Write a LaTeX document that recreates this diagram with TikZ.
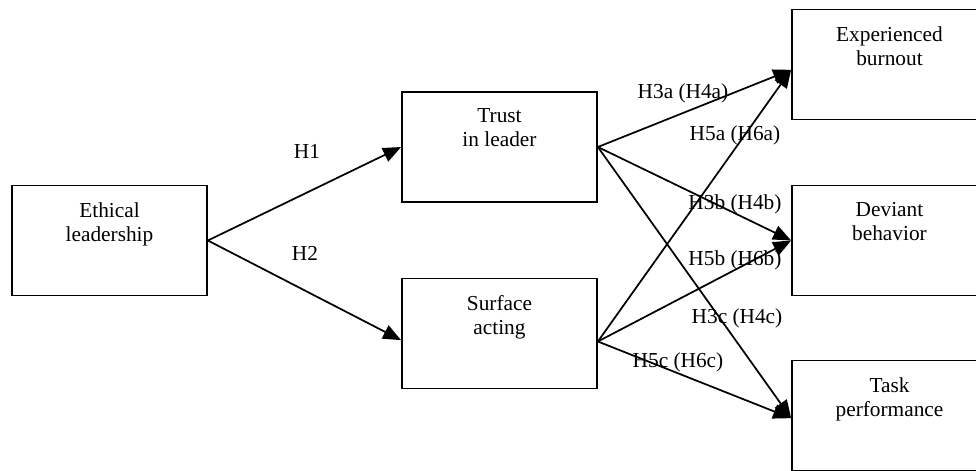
\documentclass[tikz,border=0pt]{standalone}
\usepackage{fontspec}
\setmainfont{Liberation Serif}
\usetikzlibrary{positioning,arrows.meta}

\begin{document}
\begin{tikzpicture}[x=0.75pt,y=-0.75pt,
    box/.style={draw=black, line width=1.3pt, minimum width=146.25pt, minimum height=82.5pt, inner sep=0pt},
    txt/.style={align=center, inner sep=0pt, font=\fontsize{16}{18}\selectfont},
    hyp/.style={inner sep=0pt, font=\fontsize{16}{18}\selectfont},
    arr/.style={line width=1.3pt, -{Triangle[length=13.5pt,width=11pt]}}] %Modelo
    \clip (0,0) rectangle (976,471);

    \node[box] (eth) at (109.5,240.5) {};
    \node[box] (trust) at (499.5,147) {};
    \node[box] (surf) at (499.5,333.5) {};

    \node[box] (exp) at (889.5,64.5) {};
    \node[box] (dev) at (889.5,240.5) {};
    \node[box] (task) at (889.5,415.5) {};

    \node[txt, below=13pt of eth.north] (etht) {Ethical\\leadership};
    \node[txt, below=13pt of trust.north] (trustt) {Trust\\in leader};
    \node[txt, below=13pt of surf.north] (surft) {Surface\\acting};
    \node[txt, below=13pt of exp.north] (expt) {Experienced\\burnout};
    \node[txt, below=13pt of dev.north] (devt) {Deviant\\behavior};
    \node[txt, below=13pt of task.north] (taskt) {Task\\performance};

    \coordinate (surfin) at ([yshift=-5pt]surf.west);
    \coordinate (surfout) at ([yshift=-6pt]surf.east);
    \coordinate (expin) at ([yshift=-4pt]exp.west);
    \coordinate (taskin) at ([yshift=-2pt]task.west);

    \draw[arr] (eth.east) -- (trust.west);
    \draw[arr] (eth.east) -- (surfin);

    \draw[arr] (trust.east) -- (expin);
    \draw[arr] (trust.east) -- (dev.west);
    \draw[arr] (trust.east) -- (taskin);

    \draw[arr] (surfout) -- (expin);
    \draw[arr] (surfout) -- (dev.west);
    \draw[arr] (surfout) -- (taskin);

    \node[hyp] (h1) at (307,151) {H1};
    \node[hyp] (h2) at (305,253) {H2};
    \node[hyp] (h3a) at (683,93) {H3a (H4a)};
    \node[hyp] (h5a) at (735,135) {H5a (H6a)};
    \node[hyp] (h3b) at (735,204) {H3b (H4b)};
    \node[hyp] (h5b) at (735,260) {H5b (H6b)};
    \node[hyp] (h3c) at (737,318) {H3c (H4c)};
    \node[hyp] (h5c) at (678,362) {H5c (H6c)};
\end{tikzpicture}
\end{document}
